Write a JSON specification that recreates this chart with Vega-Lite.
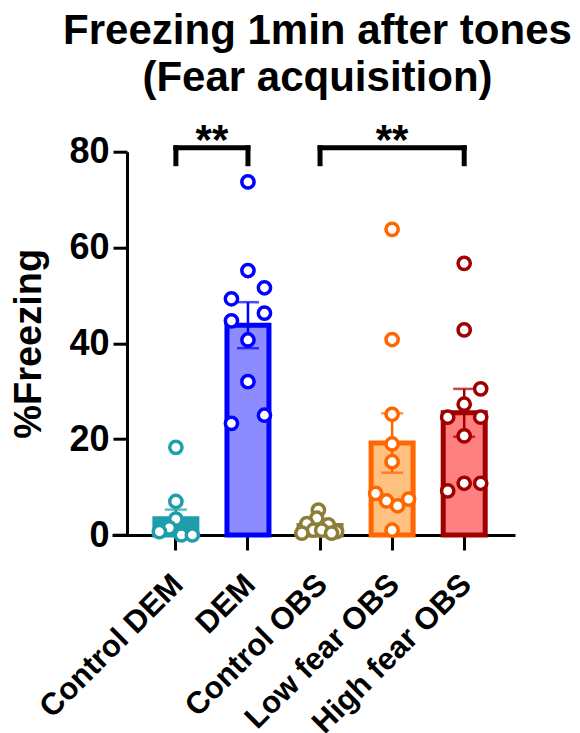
{
  "$schema": "https://vega.github.io/schema/vega-lite/v6.json",
  "autosize": {"type": "none"},
  "width": 403,
  "height": 383.3,
  "padding": {"left": 112, "top": 151.7, "right": 65, "bottom": 198},
  "background": "white",
  "title": {
    "text": ["Freezing 1min after tones", "(Fear acquisition)"],
    "font": "Liberation Sans",
    "fontSize": 42,
    "fontWeight": "bold",
    "lineHeight": 47,
    "anchor": "middle",
    "frame": "group",
    "dx": 4,
    "offset": 20,
    "color": "black"
  },
  "config": {
    "view": {"stroke": null},
    "axis": {
      "domainColor": "black",
      "domainWidth": 3,
      "tickColor": "black",
      "tickWidth": 3,
      "labelFont": "Liberation Sans",
      "labelFontWeight": "bold",
      "labelColor": "black",
      "labelFontSize": 36,
      "labelLimit": 0,
      "titleFont": "Liberation Sans",
      "titleFontWeight": "bold",
      "titleColor": "black",
      "titleFontSize": 38,
      "grid": false
    }
  },
  "resolve": {"scale": {"xOffset": "independent"}},
  "datasets": {
    "points": [
      {"group": "Control DEM", "freezing": 18.3, "col": 0},
      {"group": "Control DEM", "freezing": 7.0, "col": 0},
      {"group": "Control DEM", "freezing": 3.3, "col": 0},
      {"group": "Control DEM", "freezing": 1.5, "col": -1.2},
      {"group": "Control DEM", "freezing": 0.7, "col": -3},
      {"group": "Control DEM", "freezing": 0.0, "col": 1},
      {"group": "Control DEM", "freezing": 0.0, "col": 3},
      {"group": "DEM", "freezing": 73.7, "col": 0},
      {"group": "DEM", "freezing": 55.2, "col": 0},
      {"group": "DEM", "freezing": 51.6, "col": 3},
      {"group": "DEM", "freezing": 49.3, "col": -3},
      {"group": "DEM", "freezing": 46.3, "col": 3},
      {"group": "DEM", "freezing": 44.7, "col": -3},
      {"group": "DEM", "freezing": 40.7, "col": 0},
      {"group": "DEM", "freezing": 32.0, "col": 0},
      {"group": "DEM", "freezing": 25.0, "col": 3},
      {"group": "DEM", "freezing": 23.3, "col": -3},
      {"group": "Control OBS", "freezing": 5.2, "col": -0.3},
      {"group": "Control OBS", "freezing": 3.5, "col": -0.6},
      {"group": "Control OBS", "freezing": 2.4, "col": -2.4},
      {"group": "Control OBS", "freezing": 2.1, "col": 1.5},
      {"group": "Control OBS", "freezing": 1.0, "col": -1.2},
      {"group": "Control OBS", "freezing": 1.0, "col": 0.3},
      {"group": "Control OBS", "freezing": 0.7, "col": 3},
      {"group": "Control OBS", "freezing": 0.4, "col": -3.3},
      {"group": "Control OBS", "freezing": 0.4, "col": 2.1},
      {"group": "Low fear OBS", "freezing": 63.8, "col": 0},
      {"group": "Low fear OBS", "freezing": 40.8, "col": 0},
      {"group": "Low fear OBS", "freezing": 25.2, "col": 0},
      {"group": "Low fear OBS", "freezing": 19.0, "col": 0},
      {"group": "Low fear OBS", "freezing": 15.3, "col": 0},
      {"group": "Low fear OBS", "freezing": 8.7, "col": -3},
      {"group": "Low fear OBS", "freezing": 7.5, "col": 3},
      {"group": "Low fear OBS", "freezing": 7.1, "col": -1},
      {"group": "Low fear OBS", "freezing": 6.1, "col": 1},
      {"group": "Low fear OBS", "freezing": 1.0, "col": 0},
      {"group": "High fear OBS", "freezing": 56.7, "col": 0},
      {"group": "High fear OBS", "freezing": 42.8, "col": 0},
      {"group": "High fear OBS", "freezing": 30.5, "col": 3},
      {"group": "High fear OBS", "freezing": 27.3, "col": 0},
      {"group": "High fear OBS", "freezing": 24.6, "col": -3},
      {"group": "High fear OBS", "freezing": 24.6, "col": 3},
      {"group": "High fear OBS", "freezing": 20.7, "col": 0},
      {"group": "High fear OBS", "freezing": 10.8, "col": 0},
      {"group": "High fear OBS", "freezing": 10.8, "col": 3},
      {"group": "High fear OBS", "freezing": 9.2, "col": -3}
    ],
    "summary": [
      {"group": "Control DEM", "mean": 3.4, "sem": 1.9},
      {"group": "DEM", "mean": 43.8, "sem": 4.8},
      {"group": "Control OBS", "mean": 2.0, "sem": 0.6},
      {"group": "Low fear OBS", "mean": 19.2, "sem": 6.2},
      {"group": "High fear OBS", "mean": 25.5, "sem": 5.0}
    ],
    "brackets": [
      {"pair": 1, "g1": "Control DEM", "g2": "DEM", "top": 80.8, "leg": 77.5, "label": "**"},
      {"pair": 2, "g1": "Control OBS", "g2": "High fear OBS", "top": 80.8, "leg": 77.5, "label": "**", "mid": "Low fear OBS"}
    ]
  },
  "encoding": {
    "x": {
      "field": "group",
      "type": "nominal",
      "scale": {
        "domain": ["Control DEM", "DEM", "Control OBS", "Low fear OBS", "High fear OBS"],
        "paddingInner": 0.417, "paddingOuter": 0.504, "align": 0.59
      },
      "axis": {"title": null, "labelAngle": -45, "tickSize": 15, "labelPadding": 19, "labelOffset": -8, "labelFontSize": 31}
    }
  },
  "layer": [
    {
      "data": {"name": "summary"},
      "mark": {"type": "bar", "strokeWidth": 5, "width": 42},
      "encoding": {
        "y": {
          "field": "mean",
          "type": "quantitative",
          "scale": {"domain": [0, 80], "nice": false},
          "axis": {"title": "%Freezing", "values": [0, 20, 40, 60, 80], "offset": -15, "tickSize": 14, "labelPadding": 4, "titlePadding": 20}
        },
        "fill": {
          "field": "group",
          "type": "nominal",
          "scale": {
            "domain": ["Control DEM", "DEM", "Control OBS", "Low fear OBS", "High fear OBS"],
            "range": ["#1E9EAC", "#8C8CFF", "#8C7D38", "#FFC080", "#FF8080"]
          },
          "legend": null
        },
        "stroke": {
          "field": "group",
          "type": "nominal",
          "scale": {
            "domain": ["Control DEM", "DEM", "Control OBS", "Low fear OBS", "High fear OBS"],
            "range": ["#1E9EAC", "#0000FF", "#8C7D38", "#FF6600", "#A00000"]
          },
          "legend": null
        }
      }
    },
    {
      "data": {"name": "summary"},
      "mark": {"type": "errorbar", "ticks": {"size": 22, "thickness": 2.5}, "rule": {"strokeWidth": 2.5}},
      "encoding": {
        "y": {"field": "mean", "type": "quantitative", "title": "%Freezing"},
        "yError": {"field": "sem"},
        "color": {
          "field": "group",
          "type": "nominal",
          "scale": {
            "domain": ["Control DEM", "DEM", "Control OBS", "Low fear OBS", "High fear OBS"],
            "range": ["#1E9EAC", "#0000FF", "#8C7D38", "#FF6600", "#A00000"]
          },
          "legend": null
        }
      }
    },
    {
      "data": {"name": "points"},
      "mark": {"type": "point", "shape": "circle", "filled": false, "fill": "white", "fillOpacity": 1, "opacity": 1, "strokeWidth": 3.5, "size": 150},
      "encoding": {
        "y": {"field": "freezing", "type": "quantitative", "title": "%Freezing"},
        "xOffset": {"field": "col", "type": "quantitative", "scale": {"domain": [-3, 3], "range": [4.5, 37.5]}},
        "stroke": {"field": "group", "type": "nominal", "legend": null}
      }
    },
    {
      "data": {"name": "brackets"},
      "mark": {"type": "rule", "strokeWidth": 5, "color": "black", "strokeCap": "square"},
      "encoding": {
        "x": {"field": "g1", "type": "nominal"},
        "x2": {"field": "g2"},
        "y": {"field": "top", "type": "quantitative", "title": "%Freezing"}
      }
    },
    {
      "data": {"name": "brackets"},
      "mark": {"type": "rule", "strokeWidth": 5, "color": "black", "strokeCap": "square"},
      "encoding": {
        "x": {"field": "g1", "type": "nominal"},
        "y": {"field": "top", "type": "quantitative", "title": "%Freezing"},
        "y2": {"field": "leg"}
      }
    },
    {
      "data": {"name": "brackets"},
      "mark": {"type": "rule", "strokeWidth": 5, "color": "black", "strokeCap": "square"},
      "encoding": {
        "x": {"field": "g2", "type": "nominal"},
        "y": {"field": "top", "type": "quantitative", "title": "%Freezing"},
        "y2": {"field": "leg"}
      }
    },
    {
      "data": {"name": "brackets"},
      "transform": [{"filter": "datum.pair == 1"}],
      "mark": {"type": "text", "font": "Liberation Sans", "fontWeight": "bold", "fontSize": 42, "baseline": "alphabetic", "align": "center", "dx": -36, "dy": 6, "color": "black"},
      "encoding": {
        "x": {"field": "g2", "type": "nominal"},
        "y": {"field": "top", "type": "quantitative", "title": "%Freezing"},
        "text": {"field": "label"}
      }
    },
    {
      "data": {"name": "brackets"},
      "transform": [{"filter": "datum.pair == 2"}],
      "mark": {"type": "text", "font": "Liberation Sans", "fontWeight": "bold", "fontSize": 42, "baseline": "alphabetic", "align": "center", "dy": 6, "color": "black"},
      "encoding": {
        "x": {"field": "mid", "type": "nominal"},
        "y": {"field": "top", "type": "quantitative", "title": "%Freezing"},
        "text": {"field": "label"}
      }
    }
  ]
}
